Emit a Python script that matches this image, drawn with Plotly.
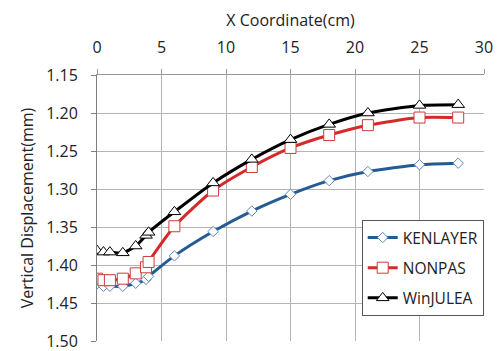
import plotly.graph_objects as go

x_cm = [0, 0.5, 1, 2, 3, 3.8, 4, 6, 9, 12, 15, 18, 21, 25, 28]
kenlayer = [1.425, 1.428, 1.428, 1.428, 1.424, 1.419, 1.415, 1.388, 1.356, 1.329, 1.307, 1.289, 1.277, 1.268, 1.266]
nonpas = [1.418, 1.420, 1.420, 1.418, 1.411, 1.403, 1.396, 1.349, 1.302, 1.271, 1.246, 1.229, 1.216, 1.206, 1.206]
winjulea = [1.381, 1.383, 1.383, 1.384, 1.375, 1.361, 1.357, 1.330, 1.292, 1.261, 1.235, 1.215, 1.200, 1.190, 1.189]

FONT = "Open Sans"

fig = go.Figure()
fig.add_trace(go.Scatter(
    x=x_cm, y=kenlayer, name="KENLAYER", mode="lines+markers", legendgroup="a",
    line=dict(color="#245b92", width=3, shape="spline", smoothing=0.6),
    marker=dict(symbol="diamond", size=8, color="white", line=dict(color="#5b87c0", width=1))))
fig.add_trace(go.Scatter(
    x=x_cm, y=nonpas, name="NONPAS", mode="lines+markers", legendgroup="b",
    line=dict(color="#d42a2a", width=3, shape="spline", smoothing=0.6),
    marker=dict(symbol="square", size=11, color="white", line=dict(color="#cf3b3b", width=1))))
fig.add_trace(go.Scatter(
    x=x_cm, y=winjulea, name="WinJULEA", mode="lines+markers", legendgroup="c",
    line=dict(color="#000000", width=3, shape="spline", smoothing=0.6),
    marker=dict(symbol="triangle-up", size=11, color="white", line=dict(color="#000000", width=1))))

fig.update_layout(
    width=499, height=351,
    margin=dict(l=97, r=15, t=75, b=10),
    paper_bgcolor="white", plot_bgcolor="white",
    font=dict(family=FONT, size=16, color="#222222"),
    showlegend=True,
    legend=dict(x=0.684, y=0.455, xanchor="left", yanchor="top",
                bgcolor="white", bordercolor="#555555", borderwidth=1,
                font=dict(family=FONT, size=15.5, color="#222222"),
                tracegroupgap=7, itemwidth=30),
    xaxis=dict(side="top", range=[0, 30], tickmode="linear", tick0=0, dtick=5,
               automargin=False,
               showgrid=True, gridcolor="#b4b4b4", gridwidth=1,
               showline=True, linecolor="#999999", linewidth=1,
               ticks="outside", ticklen=5, tickcolor="#999999",
               ticklabelstandoff=10, zeroline=False,
               tickfont=dict(family=FONT, size=16),
               title=dict(text="X Coordinate(cm)", standoff=4,
                          font=dict(family=FONT, size=16))),
    yaxis=dict(range=[1.50, 1.15], tickmode="linear", tick0=1.15, dtick=0.05,
               tickformat=".2f", ticklabeloverflow="allow", automargin=False,
               showgrid=True, gridcolor="#b4b4b4", gridwidth=1,
               showline=True, linecolor="#7f7f7f", linewidth=1,
               ticks="outside", ticklen=5, tickcolor="#7f7f7f",
               ticklabelstandoff=10, zeroline=False,
               tickfont=dict(family=FONT, size=16),
               title=dict(text="Vertical Displacement(mm)", standoff=8,
                          font=dict(family=FONT, size=16))),
)

fig.write_html("out.html")
